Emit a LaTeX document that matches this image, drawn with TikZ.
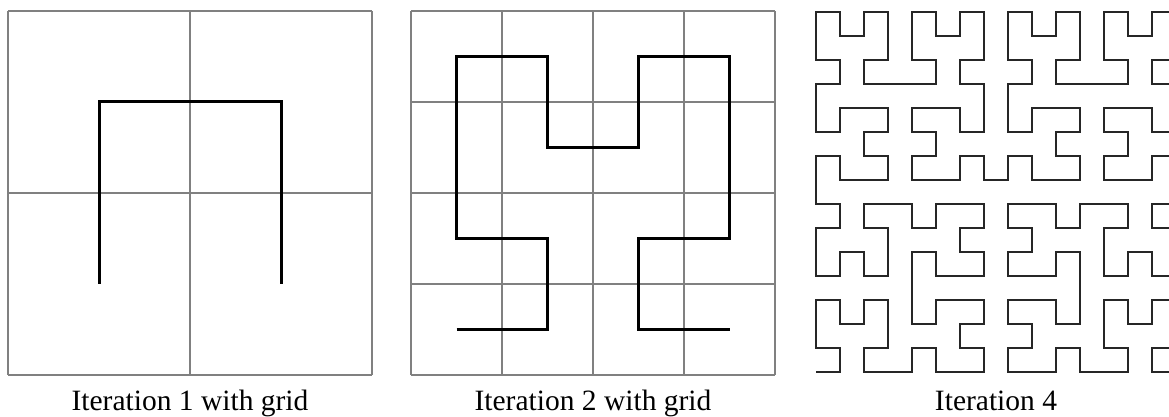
\documentclass[tikz,border=0pt]{standalone}
\usepackage{fontspec}
\setmainfont{Liberation Serif}
\usepackage{tikz}
\usetikzlibrary{lindenmayersystems}

\pgfdeclarelindenmayersystem{Hilbert}{
  \rule{A -> +BF-AFA-FB+}
  \rule{B -> -AF+BFB+FA-}
}

\begin{document}
\begin{tikzpicture}[
    x=1pt, y=1pt,
    gridline/.style={draw=black!50, line width=2pt},
    curve/.style={draw=black, line width=3pt},
    finecurve/.style={draw=black!85, line width=2.2pt},
    caption/.style={anchor=base, font=\fontsize{29.5}{32}\selectfont}
]
\useasboundingbox (0,0) rectangle (1169,417);

% iteration 1
\begin{scope}[shift={(8,42)}]
  \draw[gridline] (0,0) grid[step=182] (364,364);
\end{scope}
\begin{scope}[shift={(99,133)}]
  \draw[curve, lindenmayer system={Hilbert, axiom=A, order=1, step=182pt, angle=90}]
    (0,0) lindenmayer system;
\end{scope}
\node[caption] (cap1) at (190,6) {Iteration 1 with grid};

% iteration 2
\begin{scope}[shift={(411,42)}]
  \draw[gridline] (0,0) grid[step=91] (364,364);
\end{scope}
\begin{scope}[shift={(456.5,87.5)}]
  \draw[curve, lindenmayer system={Hilbert, axiom=A, order=2, step=91pt, angle=90}]
    (0,0) lindenmayer system;
\end{scope}
\node[caption] (cap2) at (593,6) {Iteration 2 with grid};

% iteration 4 (cut at the right edge)
\begin{scope}
  \clip (790,0) rectangle (1169,417);
  \begin{scope}[shift={(816,45)}]
    \draw[finecurve, lindenmayer system={Hilbert, axiom=A, order=4, step=24pt, angle=90}]
      (0,0) lindenmayer system;
  \end{scope}
\end{scope}
\node[caption] (cap3) at (996,6) {Iteration 4};

\end{tikzpicture}
\end{document}
